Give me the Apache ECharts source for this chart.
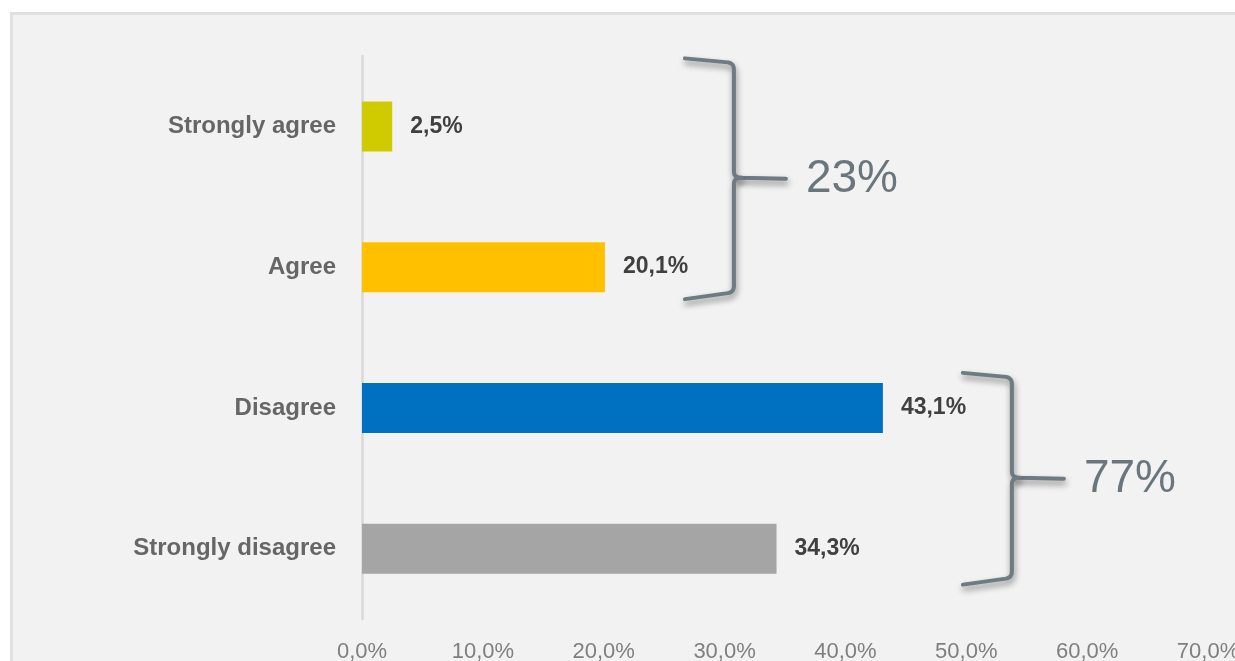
<!DOCTYPE html>
<html>
<head>
<meta charset="utf-8">
<script src="https://cdn.jsdelivr.net/npm/echarts@6/dist/echarts.min.js"></script>
<style>
  html, body { margin: 0; padding: 0; background: #ffffff; }
  #frame {
    position: absolute; left: 10px; top: 12px; width: 1240px; height: 660px;
    background: #f2f2f2; border-left: 3px solid #e0e0de; border-top: 3px solid #e0e0de;
  }
  #chart { position: absolute; left: 0; top: 0; width: 1235px; height: 661px; }
</style>
</head>
<body>
<div id="frame"></div>
<div id="chart"></div>
<script>
// Survey answers, top to bottom
const categories = ['Strongly agree', 'Agree', 'Disagree', 'Strongly disagree'];
const shares = [2.5, 20.1, 43.1, 34.3];
const barColors = ['#cfcb00', '#ffc000', '#0070c0', '#a5a5a5'];
// Grouped totals shown beside the braces
const groupLabels = ['23%', '77%'];
const groupMembers = [[0, 1], [2, 3]];
// Percentage axis
const axisMin = 0, axisMax = 70, axisStep = 10;

const pct = v => v.toFixed(1).replace('.', ',') + '%';
const font = '"Liberation Sans", Arial, sans-serif';

const chart = echarts.init(document.getElementById('chart'), null, { renderer: 'canvas' });

chart.setOption({
  animation: false,
  grid: { left: 362, right: 27, top: 56, bottom: 42, outerBoundsMode: 'none', containLabel: false },
  xAxis: {
    type: 'value', min: axisMin, max: axisMax, interval: axisStep,
    axisLine: { show: false }, axisTick: { show: false }, splitLine: { show: false },
    axisLabel: { formatter: pct, color: '#7f7f7f', fontFamily: font, fontSize: 22, margin: 22, hideOverlap: false }
  },
  yAxis: {
    type: 'category', data: categories, inverse: true,
    axisLine: { show: true, lineStyle: { color: '#d9d9d9', width: 2.5 } },
    axisTick: { show: false },
    axisLabel: { color: '#666666', fontFamily: font, fontSize: 24, fontWeight: 'bold', margin: 26 }
  },
  series: [{
    type: 'bar',
    barWidth: 50,
    data: shares.map((v, i) => ({ value: v, itemStyle: { color: barColors[i] } })),
    label: {
      show: true, position: 'right', distance: 18,
      formatter: p => pct(p.value),
      color: '#404040', fontFamily: font, fontSize: 23, fontWeight: 'bold'
    }
  }]
});

// Sample a quadratic curve into polyline points
function quad(p0, c, p1, n) {
  const pts = [];
  for (let k = 1; k <= n; k++) {
    const t = k / n, u = 1 - t;
    pts.push([u * u * p0[0] + 2 * u * t * c[0] + t * t * p1[0],
              u * u * p0[1] + 2 * u * t * c[1] + t * t * p1[1]]);
  }
  return pts;
}

// Braces grouping the agree / disagree answers
const bracePad = [[68, 30], [35, 34]];
const braceStyle = {
  fill: null, stroke: '#6d7b83', lineWidth: 4, lineJoin: 'round', lineCap: 'round',
  shadowBlur: 6, shadowColor: 'rgba(0,0,0,0.45)', shadowOffsetX: 1, shadowOffsetY: 4
};
const graphics = [];
groupMembers.forEach((members, g) => {
  const maxVal = Math.max(...members.map(i => shares[i]));
  const xEnd = chart.convertToPixel({ gridIndex: 0 }, [maxVal, 0])[0];
  const yFirst = chart.convertToPixel({ gridIndex: 0 }, [0, members[0]])[1];
  const yLast = chart.convertToPixel({ gridIndex: 0 }, [0, members[members.length - 1]])[1];
  const L = xEnd + 80, V = xEnd + 129;
  const top = yFirst - bracePad[g][0], bottom = yLast + bracePad[g][1];
  const tip = (top + bottom) / 2;

  const upper = [[L, top], [V - 6, top + 4]]
    .concat(quad([V - 6, top + 4], [V, top + 5], [V, top + 11], 5))
    .concat([[V, tip - 6]])
    .concat(quad([V, tip - 6], [V, tip], [V + 8, tip], 5))
    .concat([[V + 52, tip + 1]]);
  const lower = [[V + 8, tip]]
    .concat(quad([V + 8, tip], [V, tip], [V, tip + 6], 5))
    .concat([[V, bottom - 11]])
    .concat(quad([V, bottom - 11], [V, bottom - 5], [V - 6, bottom - 4], 5))
    .concat([[L, bottom + 2]]);

  graphics.push({ type: 'polyline', shape: { points: upper }, style: braceStyle });
  graphics.push({ type: 'polyline', shape: { points: lower }, style: braceStyle });
  graphics.push({
    type: 'text',
    x: V + 72, y: tip + 2,
    style: {
      text: groupLabels[g], fill: '#6a767d', fontFamily: font, fontSize: 46,
      verticalAlign: 'middle', align: 'left'
    }
  });
});
chart.setOption({ graphic: graphics });
</script>
</body>
</html>
